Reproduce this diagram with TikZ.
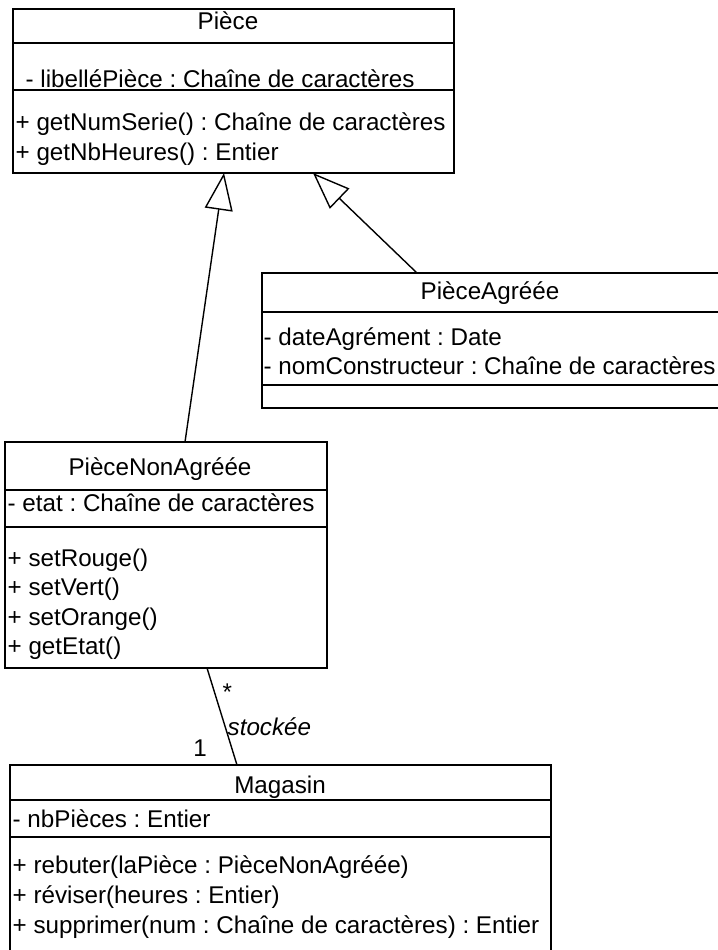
\documentclass[tikz,border=0pt]{standalone}
\usepackage{fontspec}
\setmainfont{Liberation Sans}
\usetikzlibrary{arrows.meta}
\frenchspacing

\begin{document}
\begin{tikzpicture}[x=0.5pt, y=-0.5pt, line width=0.7pt,
		txt/.style={anchor=west, inner sep=0pt, font=\fontsize{12.1}{14.5}\selectfont, text height=8.7pt, text depth=0pt},
		ttl/.style={txt, anchor=center},
		inherit/.style={-{Triangle[open, length=18.5pt, width=14pt]}}]
		
		\useasboundingbox (0,0) rectangle (718,950);
		\clip (0,0) rectangle (718,950);
		
		% Class Piece
		\draw (13,9) rectangle (454,173);
		\draw (13,43) -- (454,43);
		\draw (13,90) -- (454,90);
		\node[ttl] (pieceName) at (228,21) {Pièce};
		\node[txt] (pieceAttr) at (25,79) {- libelléPièce : Chaîne de caractères};
		\node[txt] (pieceOpA) at (15,122) {+ getNumSerie() : Chaîne de caractères};
		\node[txt] (pieceOpB) at (15,152) {+ getNbHeures() : Entier};
		\coordinate (pieceL) at (224,173);
		\coordinate (pieceR) at (313,173);
		
		% Class PieceAgreee
		\draw (262,273) rectangle (724,408);
		\draw (262,312) -- (724,312);
		\draw (262,385) -- (724,385);
		\node[ttl] (paName) at (490,291) {PièceAgréée};
		\node[txt] (paAttrA) at (263,337) {- dateAgrément : Date};
		\node[txt] (paAttrB) at (263,366) {- nomConstructeur : Chaîne de caractères};
		\coordinate (paTop) at (417,273);
		
		% Class PieceNonAgreee
		\draw (5,442) rectangle (327,668);
		\draw (5,490) -- (327,490);
		\draw (5,527) -- (327,527);
		\node[ttl] (pnaName) at (160,467) {PièceNonAgréée};
		\node[txt] (pnaAttr) at (7,503) {- etat : Chaîne de caractères};
		\node[txt] (pnaOpA) at (7,558) {+ setRouge()};
		\node[txt] (pnaOpB) at (7,587) {+ setVert()};
		\node[txt] (pnaOpC) at (7,617) {+ setOrange()};
		\node[txt] (pnaOpD) at (7,646) {+ getEtat()};
		\coordinate (pnaTop) at (185,442);
		\coordinate (pnaBot) at (207,668);
		
		% Class Magasin
		\draw (10,765) rectangle (551,962);
		\draw (10,800) -- (551,800);
		\draw (10,837) -- (551,837);
		\node[ttl] (magName) at (280,785) {Magasin};
		\node[txt] (magAttr) at (12,819) {- nbPièces : Entier};
		\node[txt] (magOpA) at (12,865) {+ rebuter(laPièce : PièceNonAgréée)};
		\node[txt] (magOpB) at (12,895) {+ réviser(heures : Entier)};
		\node[txt] (magOpC) at (12,925) {+ supprimer(num : Chaîne de caractères) : Entier};
		\coordinate (magTop) at (237,765);
		
		% Generalisations
		\draw[inherit] (pnaTop) -- (pieceL);
		\draw[inherit] (paTop) -- (pieceR);
		
		% Association stockee
		\draw (pnaBot) -- (magTop);
		\node[txt] (multMany) at (222,692) {*};
		\node[txt, font=\fontsize{12.1}{14.5}\selectfont\itshape] (assocName) at (227,727) {stockée};
		\node[ttl] (multOne) at (200,748) {1};
		
	\end{tikzpicture}
\end{document}
